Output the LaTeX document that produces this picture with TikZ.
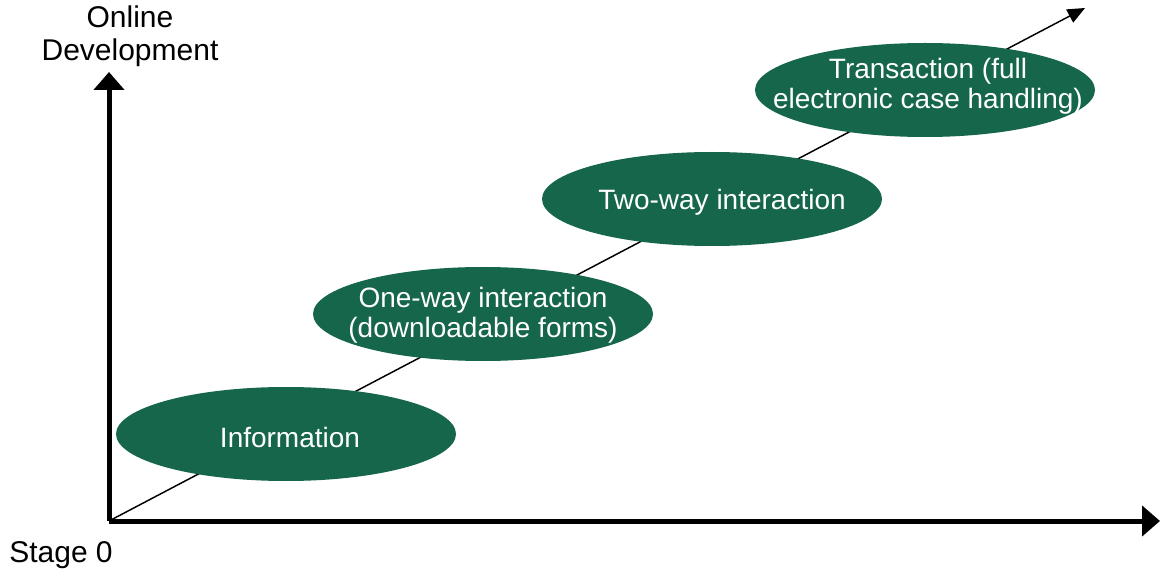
\documentclass[tikz,border=0pt]{standalone}
\usepackage{fontspec}
\setmainfont{Liberation Sans}
\usetikzlibrary{arrows.meta,shapes.geometric,calc}
\definecolor{stagegreen}{RGB}{21,102,75}
\begin{document}
\begin{tikzpicture}[x=0.75pt,y=-0.75pt,
  stagebox/.style={ellipse,fill=stagegreen,draw=none,minimum width=255pt,minimum height=70.5pt,inner sep=0pt},
  stagetext/.style={text=white,align=center,inner sep=0pt,font=\fontsize{21}{22.8}\selectfont},
  axislabel/.style={align=center,inner sep=0pt,font=\fontsize{22.5}{24.75}\selectfont},
  axisline/.style={line width=3.75pt,-{Triangle[length=13.5pt,width=22.5pt]}},
  trendline/.style={line width=1.1pt,-{Triangle[length=13pt,width=11pt]}}]
\useasboundingbox (0,0) rectangle (1164,577);
\fill[white] (0,0) rectangle (1164,577);

% axes end points
\coordinate (origin) at (109,521);
\coordinate (ytip) at (109,72);
\coordinate (xtip) at (1160,521);
\coordinate (trendtip) at (1085,8);

% growth line behind the stages
\draw[trendline] (origin) -- (trendtip);

% stages
\node[stagebox] (info) at (286,434) {};
\node[stagebox] (oneway) at (483,314) {};
\node[stagebox] (twoway) at (712,199) {};
\node[stagebox] (trans) at (925,90) {};

\node[stagetext] (infot) at ($(info.center)+(4,3)$) {Information};
\node[stagetext] (onewayt) at ($(oneway.center)+(0,1)$) {One-way interaction\\(downloadable forms)};
\node[stagetext] (twowayt) at ($(twoway.center)+(10,3)$) {Two-way interaction};
\node[stagetext] (transt) at ($(trans.center)+(3,-4)$) {Transaction (full\\electronic case handling)};

% axes
\draw[axisline] (origin) -- (ytip);
\draw[axisline] (origin) -- (xtip);

\node[axislabel] (ylabel) at (130,36) {Online\\Development};
\node[axislabel] (xlabel) at (61,555) {Stage 0};
\end{tikzpicture}
\end{document}
